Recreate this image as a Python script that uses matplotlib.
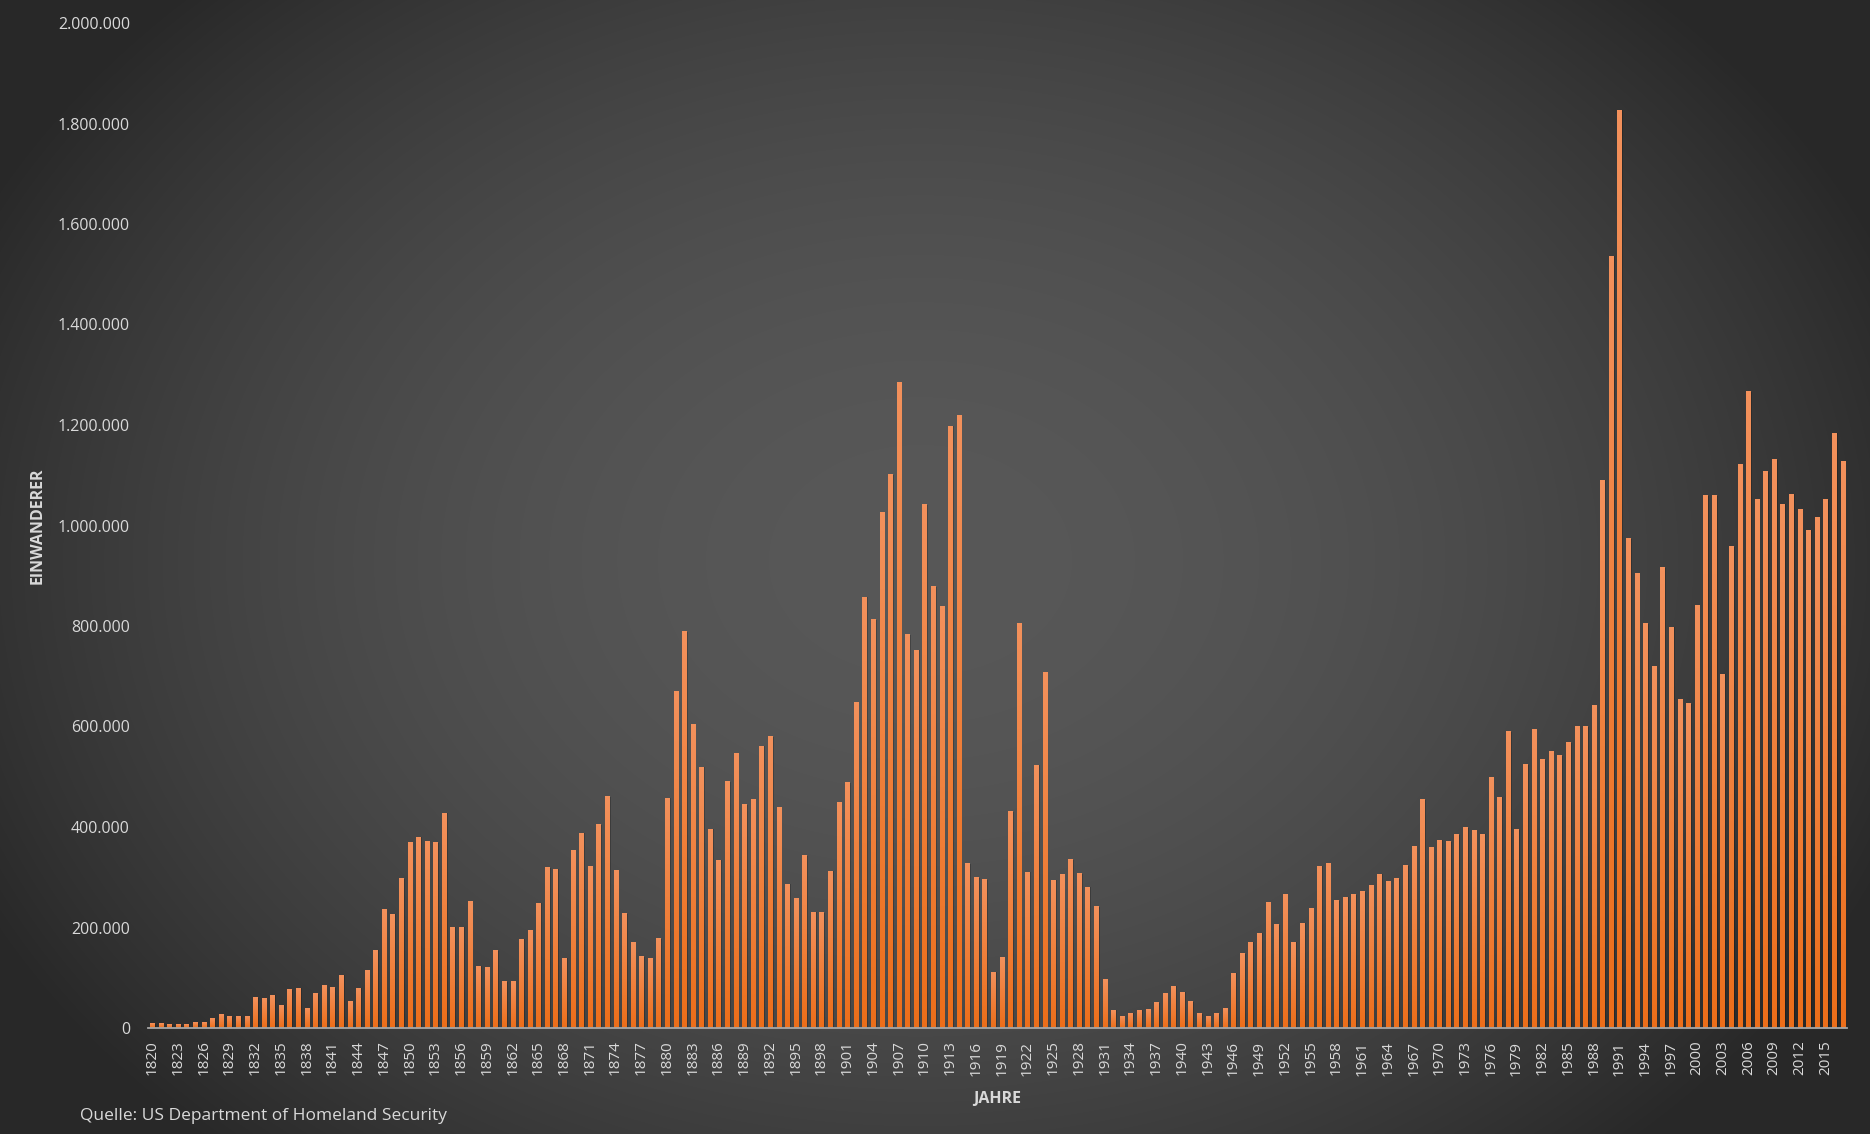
import matplotlib

matplotlib.use("Agg")
import matplotlib.pyplot as plt
import numpy as np

# Persons obtaining lawful permanent resident status, 1820-2017.
years = list(range(1820, 2018))
immigrants = [
    8385, 9127, 6911, 6354, 7912, 10199, 10837, 18875, 27382, 22520,
    23322, 22633, 60482, 58640, 65365, 45374, 76242, 79340, 38914, 68069,
    84066, 80289, 104565, 52496, 78615, 114371, 154416, 234968, 226527, 297024,
    369980, 379466, 371603, 368645, 427833, 200877, 200436, 251306, 123126, 121282,
    153640, 91918, 91985, 176282, 193418, 248120, 318568, 315722, 138840, 352768,
    387203, 321350, 404806, 459803, 313339, 227498, 169986, 141857, 138469, 177826,
    457257, 669431, 788992, 603322, 518592, 395346, 334203, 490109, 546889, 444427,
    455302, 560319, 579663, 439730, 285631, 258536, 343267, 230832, 229299, 311715,
    448572, 487918, 648743, 857046, 812870, 1026499, 1100735, 1285349, 782870, 751786,
    1041570, 878587, 838172, 1197892, 1218480, 326700, 298826, 295403, 110618, 141132,
    430001, 805228, 309556, 522919, 706896, 294314, 304488, 335175, 307255, 279678,
    241700, 97139, 35576, 23068, 29470, 34956, 36329, 50244, 67895, 82998,
    70756, 51776, 28781, 23725, 28551, 38119, 108721, 147292, 170570, 188317,
    249187, 205717, 265520, 170434, 208177, 237790, 321625, 326867, 253265, 260686,
    265398, 271344, 283763, 306260, 292248, 296697, 323040, 361972, 454448, 358579,
    373326, 370478, 384685, 398515, 393919, 385378, 499093, 458755, 589810, 394244,
    524295, 595014, 533624, 550052, 541811, 568149, 600027, 599889, 641346, 1090172,
    1535872, 1826595, 973445, 903916, 803993, 720177, 915560, 797847, 653206, 644787,
    841002, 1058902, 1059356, 703542, 957883, 1122257, 1266129, 1052415, 1107126, 1130818,
    1042625, 1062040, 1031631, 990553, 1016518, 1051031, 1183505, 1127167,
]
y_ticks = [0, 200000, 400000, 600000, 800000, 1000000, 1200000, 1400000,
           1600000, 1800000, 2000000]


def de_format(v):
    return f"{v:,}".replace(",", ".")


def main() -> None:
    plt.rcParams["font.family"] = ["Open Sans", "DejaVu Sans"]

    W, H = 1870, 1134
    fig = plt.figure(figsize=(W / 100, H / 100), dpi=100)

    # Radial grey background.
    bg = fig.add_axes([0, 0, 1, 1], zorder=-10)
    yy, xx = np.mgrid[0:H, 0:W]
    r2 = ((xx - 920) / 1050.0) ** 2 + ((yy - 560) / 800.0) ** 2
    v = (88 - 48 * np.clip(r2, 0, 1)) / 255.0
    bg.imshow(np.dstack([v, v, v]), extent=(0, 1, 0, 1), aspect="auto")
    bg.axis("off")

    left, right = 148 / W, 1847 / W
    bottom, top = 1 - 1028 / H, 1 - 23 / H
    ax = fig.add_axes([left, bottom, right - left, top - bottom])
    ax.patch.set_alpha(0)

    n = len(years)
    x = np.arange(n)
    width = 0.5

    # Soft shadow to the right of each bar.
    ax.bar(x + 0.16, immigrants, width=width, color="black", alpha=0.22, zorder=1)

    # Per-bar vertical gradient.
    top_c = np.array([243, 145, 92]) / 255.0
    bot_c = np.array([236, 110, 26]) / 255.0
    t = np.linspace(0, 1, 64)[:, None]
    grad = (top_c * (1 - t) + bot_c * t)[:, None, :]
    for xi, h in zip(x, immigrants):
        ax.imshow(grad, extent=(xi - width / 2, xi + width / 2, 0, h),
                  aspect="auto", interpolation="bilinear", zorder=2)

    ax.set_xlim(-0.5, n - 0.5)
    ax.set_ylim(0, 2000000)

    ax.set_xticks(x[::3])
    ax.set_xticklabels([str(yr) for yr in years[::3]], rotation=90)
    ax.set_yticks(y_ticks)
    ax.set_yticklabels([de_format(vv) for vv in y_ticks])
    ax.tick_params(axis="x", length=0, pad=9, labelsize=11, colors="#d9d9d9")
    ax.tick_params(axis="y", length=0, pad=13, labelsize=11.5, colors="#d9d9d9")

    for side in ["left", "right", "top"]:
        ax.spines[side].set_visible(False)
    ax.spines["bottom"].set_color("#a6a6a6")
    ax.spines["bottom"].set_linewidth(1.3)
    ax.spines["bottom"].set_zorder(5)

    fig.text(38 / W, 1 - 526 / H, "EINWANDERER", rotation=90, ha="center",
             va="center", fontsize=11.5, fontweight="bold", color="#d9d9d9")
    fig.text(997 / W, 1 - 1099 / H, "JAHRE", ha="center", va="center",
             fontsize=11.5, fontweight="bold", color="#d9d9d9")
    fig.text(80 / W, 1 - 1116 / H, "Quelle: US Department of Homeland Security",
             ha="left", va="center", fontsize=12.5, color="#d9d9d9")

    fig.savefig("out.png", dpi=100)


if __name__ == "__main__":
    main()
